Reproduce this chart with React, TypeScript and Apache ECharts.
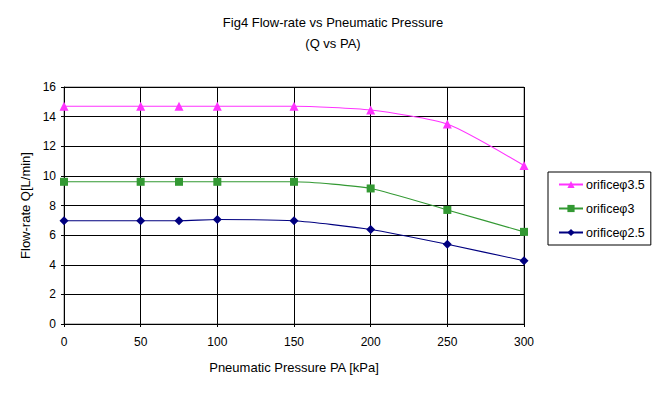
import React, { useEffect, useRef } from "react";
import * as echarts from "echarts";

const pressures = [0, 50, 75, 100, 150, 200, 250, 300];
const seriesNames = ["orificeφ3.5", "orificeφ3", "orificeφ2.5"];
const q35 = [14.7, 14.7, 14.7, 14.7, 14.7, 14.45, 13.5, 10.7];
const q3 = [9.6, 9.6, 9.6, 9.6, 9.6, 9.15, 7.7, 6.22];
const q25 = [6.97, 6.97, 6.97, 7.05, 6.97, 6.38, 5.38, 4.27];
const colors = ["#FF33FF", "#339933", "#000080"];
const symbols = ["triangle", "rect", "diamond"];
const symbolSizes = [9, 8, 9];

export default function App() {
  const ref = useRef<HTMLDivElement>(null);
  useEffect(() => {
    const chart = echarts.init(ref.current!, null, { renderer: "svg" });
    const font = "'Liberation Sans', Arial, sans-serif";
    const data = [q35, q3, q25];
    chart.setOption({
      animation: false,
      backgroundColor: "#ffffff",
      textStyle: { fontFamily: font },
      title: {
        text: "Fig4 Flow-rate vs Pneumatic Pressure\n(Q vs PA)",
        left: 328,
        textAlign: "center",
        top: 7,
        textStyle: { fontSize: 13, fontWeight: "normal", color: "#000", lineHeight: 21, fontFamily: font },
      },
      grid: {
        left: 64,
        right: 132,
        top: 87,
        bottom: 75,
        show: true,
        borderColor: "#808080",
        borderWidth: 1,
      },
      legend: {
        orient: "vertical",
        left: 548,
        top: 172,
        width: 99,
        padding: [6, 6, 6, 10],
        borderColor: "#000",
        borderWidth: 1,
        itemGap: 11,
        itemWidth: 24,
        itemHeight: 9,
        data: seriesNames,
        textStyle: { fontSize: 12.5, color: "#000", fontFamily: font, padding: [0, 0, 0, -2] },
      },
      xAxis: {
        type: "value",
        min: 0,
        max: 300,
        interval: 50,
        name: "Pneumatic Pressure PA [kPa]",
        nameLocation: "middle",
        nameGap: 37,
        nameTextStyle: { fontSize: 13, color: "#000", fontFamily: font },
        axisLine: { show: true, lineStyle: { color: "#000", width: 1 } },
        axisTick: { show: true, length: 3, lineStyle: { color: "#000" } },
        axisLabel: { fontSize: 12, color: "#000", margin: 12, fontFamily: font },
        splitLine: { show: true, lineStyle: { color: "#000", width: 1 } },
      },
      yAxis: {
        type: "value",
        min: 0,
        max: 16,
        interval: 2,
        name: "Flow-rate Q[L/min]",
        nameLocation: "middle",
        nameGap: 30,
        nameTextStyle: { fontSize: 13, color: "#000", fontFamily: font },
        axisLine: { show: true, lineStyle: { color: "#000", width: 1 } },
        axisTick: { show: true, length: 3, lineStyle: { color: "#000" } },
        axisLabel: { fontSize: 12, color: "#000", margin: 8, fontFamily: font },
        splitLine: { show: true, lineStyle: { color: "#000", width: 1 } },
      },
      series: seriesNames.map((name, i) => ({
        name,
        type: "line",
        smooth: 0.2,
        data: pressures.map((p, j) => [p, data[i][j]]),
        symbol: symbols[i],
        symbolSize: symbolSizes[i],
        color: colors[i],
        lineStyle: { color: colors[i], width: 1.1 },
        itemStyle: { color: colors[i] },
      })),
    });
    return () => chart.dispose();
  }, []);
  return <div ref={ref} style={{ width: 656, height: 399, position: "absolute", left: 0, top: 0 }} />;
}
